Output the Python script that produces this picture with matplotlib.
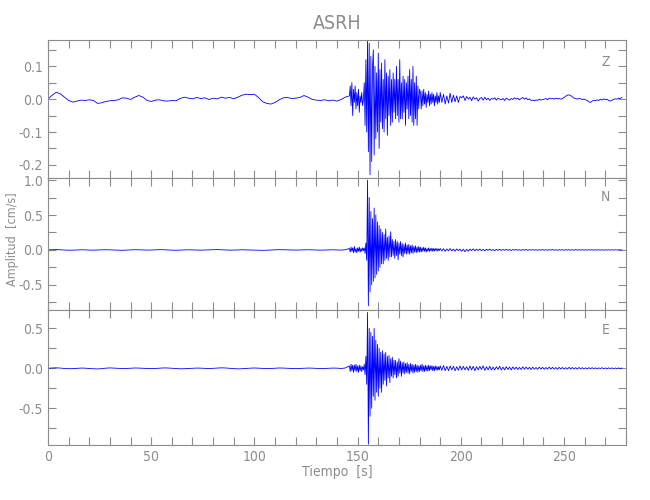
import numpy as np
import matplotlib
matplotlib.use("Agg")
import matplotlib.pyplot as plt
from matplotlib.ticker import MultipleLocator, FormatStrFormatter

plt.rcParams['font.family'] = ['DejaVu Sans']
plt.rcParams['font.stretch'] = 'condensed'
plt.rcParams['axes.unicode_minus'] = True

# 0. 数据
station = "ASRH"
components = ["Z", "N", "E"]

# 事件前 (0-144 s, 每 2 s 一个值)
pre_start, pre_step = 0.0, 2.0
z_pre = [0.0, 0.012, 0.021, 0.016, 0.006, -0.004, -0.009, -0.006, -0.003, -0.004,
         -0.002, -0.004, -0.013, -0.011, -0.007, -0.005, -0.004, -0.002, 0.004, 0.003,
         -0.001, 0.006, 0.011, 0.006, -0.004, -0.007, -0.003, -0.002, -0.005, -0.006,
         -0.004, -0.005, 0.002, 0.006, 0.003, 0.001, 0.005, 0.002, 0.004, -0.001,
         0.003, 0.001, 0.006, 0.003, 0.005, 0.001, 0.006, 0.012, 0.015, 0.014,
         0.015, 0.005, -0.008, -0.013, -0.015, -0.010, -0.002, 0.004, 0.005, 0.002,
         0.003, 0.005, 0.011, 0.006, -0.001, -0.003, -0.004, -0.002, -0.005, -0.003,
         -0.006, -0.001, 0.006]
n_pre = [0.0, 0.003, 0.005, 0.002, -0.002, -0.004, -0.003, 0.0, 0.002, 0.001,
         -0.002, -0.003, -0.001, 0.002, 0.003, 0.001, -0.001, -0.004, -0.005, -0.002,
         0.001, 0.003, 0.002, 0.0, -0.002, -0.001, 0.002, 0.004, 0.003, 0.0,
         -0.003, -0.004, -0.002, 0.001, 0.002, 0.0, -0.002, -0.003, -0.001, 0.002,
         0.004, 0.005, 0.002, -0.001, -0.003, -0.002, 0.0, 0.002, 0.001, -0.001,
         -0.003, -0.004, -0.006, -0.004, -0.001, 0.002, 0.004, 0.003, 0.001, -0.001,
         -0.002, 0.0, 0.002, 0.003, 0.001, -0.002, -0.003, -0.001, 0.001, 0.002,
         0.0, -0.002, 0.003]
e_pre = [0.0, 0.004, 0.006, 0.003, -0.002, -0.005, -0.004, 0.0, 0.003, 0.002,
         -0.003, -0.006, -0.008, -0.004, 0.002, 0.005, 0.003, 0.0, -0.003, -0.002,
         0.001, 0.004, 0.003, 0.0, -0.002, -0.004, -0.002, 0.002, 0.005, 0.004,
         0.001, -0.003, -0.006, -0.005, -0.002, 0.001, 0.003, 0.002, -0.001, -0.003,
         0.0, 0.003, 0.006, 0.004, 0.0, -0.004, -0.007, -0.005, -0.001, 0.002,
         0.004, 0.002, -0.001, -0.003, -0.002, 0.001, 0.004, 0.003, 0.0, -0.002,
         -0.004, -0.002, 0.001, 0.003, 0.002, -0.001, -0.003, -0.002, 0.001, 0.003,
         0.002, -0.002, 0.004]

# 事件 (146-189.6 s, 每 0.4 s 一个值)
ev_start, ev_step = 146.0, 0.4
z_ev = [0.01, 0.04, -0.02, 0.05, -0.05, 0.03, -0.01, 0.04, -0.03, 0.02,
        -0.02, 0.03, -0.04, 0.01, -0.01, 0.02, -0.02, 0.0,
        0.05, -0.08, 0.12, -0.10, 0.18, -0.16, 0.17, -0.23, 0.13, -0.19, 0.10,
        0.15, -0.17, 0.10, -0.12, 0.08, -0.10, 0.14, -0.15, 0.09, -0.07, 0.11, -0.09,
        0.06, -0.10, 0.12, -0.06, 0.08, -0.11, 0.07, -0.05, 0.09, -0.08, 0.06, -0.07,
        0.08, -0.04, 0.06,
        -0.06, 0.10, -0.05, 0.06, -0.07, 0.12, -0.06, 0.05, -0.06, 0.07, -0.04, 0.06,
        -0.08, 0.05, -0.03,
        0.07, -0.06, 0.09, -0.05, 0.06, -0.07, 0.10, -0.08, 0.05, -0.06, 0.07, -0.08,
        0.04, -0.03, 0.03,
        0.02, -0.03, 0.025, -0.02, 0.03, -0.015, 0.02, -0.025, 0.015, -0.01, 0.025,
        -0.02, 0.015, -0.015, 0.02, -0.01, 0.015, -0.02, 0.01, -0.01, 0.02, -0.015,
        0.01, -0.01]
n_ev = [0.02, -0.03, 0.04, -0.02, 0.03, -0.04, 0.05, -0.03, 0.02, -0.04,
        0.03, -0.02, 0.04, -0.03, 0.02, -0.02, 0.03, -0.01,
        0.03, -0.05, 0.10, -0.15, 1.0, -0.80, 0.75, -0.60, 0.55, -0.50, 0.45,
        -0.45, 0.60, -0.40, 0.50, -0.35, 0.40, -0.30, 0.35, -0.25, 0.30, -0.20, 0.25,
        -0.20, 0.22, -0.15, 0.30, -0.12, 0.18, -0.15, 0.20, -0.10, 0.26, -0.10, 0.15,
        -0.08, 0.12, -0.12,
        0.15, -0.08, 0.12, -0.14, 0.10, -0.06, 0.12, -0.08, 0.09, -0.10, 0.08, -0.05,
        0.10, -0.06, 0.07,
        -0.05, 0.08, -0.06, 0.06, -0.04, 0.07, -0.05, 0.05, -0.03, 0.06, -0.04, 0.04,
        -0.03, 0.05, -0.03,
        0.04, -0.03, 0.03, -0.02, 0.04, -0.02, 0.03, -0.03, 0.02, -0.02, 0.03, -0.02,
        0.02, -0.015, 0.025, -0.02, 0.02, -0.015, 0.02, -0.01, 0.02, -0.015, 0.015, -0.01]
e_ev = [0.03, -0.04, 0.05, -0.03, 0.04, -0.05, 0.04, -0.03, 0.05, -0.04,
        0.03, -0.05, 0.04, -0.03, 0.03, -0.04, 0.02, -0.02,
        0.05, -0.08, 0.15, -0.20, 0.70, -0.95, 0.50, -0.60, 0.45, -0.50, 0.40,
        -0.35, 0.50, -0.40, 0.35, -0.30, 0.30, -0.35, 0.25, -0.25, 0.20, -0.30, 0.22,
        -0.20, 0.18, -0.15, 0.20, -0.22, 0.15, -0.12, 0.16, -0.18, 0.12, -0.10, 0.14,
        -0.12, 0.10, -0.08,
        0.10, -0.12, 0.08, -0.10, 0.12, -0.06, 0.09, -0.10, 0.07, -0.06, 0.08, -0.07,
        0.06, -0.05, 0.07,
        -0.06, 0.05, -0.07, 0.06, -0.04, 0.05, -0.06, 0.04, -0.05, 0.05, -0.04, 0.04,
        -0.05, 0.03, -0.04,
        0.04, -0.03, 0.05, -0.04, 0.03, -0.04, 0.04, -0.03, 0.03, -0.035, 0.04, -0.03,
        0.03, -0.02, 0.035, -0.03, 0.025, -0.03, 0.03, -0.02, 0.025, -0.025, 0.02, -0.02]

# 尾波 (190-278 s, 每 0.8 s 一个值)
coda_start, coda_step = 190.0, 0.8
z_coda = [0.02, -0.01, 0.015, -0.015, 0.01, -0.012, 0.018, -0.01, 0.012, -0.008,
          0.01, -0.01, 0.008,
          0.004, 0.01, -0.004, 0.008, 0.0, 0.006, -0.005, 0.007, 0.0, 0.004,
          -0.006, 0.002, 0.005, -0.003, 0.006, -0.002, 0.003, -0.004, 0.002, 0.0,
          0.004, -0.003, 0.003, 0.0, -0.002,
          0.002, -0.004, 0.003, 0.0, -0.003, 0.002, -0.001, 0.004, 0.0, 0.003,
          -0.002, 0.002, 0.005, 0.0, 0.004, -0.002, 0.001, -0.004, -0.003, -0.005,
          -0.002, -0.004, 0.0, -0.003, -0.001,
          0.0, 0.002, -0.002, 0.003, 0.001, 0.002, 0.0, 0.003, 0.001, 0.002,
          0.0, 0.002, 0.005, 0.009, 0.012, 0.013, 0.011, 0.007, 0.003, 0.002,
          0.0, 0.002, 0.001, -0.001, 0.0,
          -0.002, -0.004, -0.008, -0.010, -0.006, -0.003, -0.005, -0.002, -0.004, 0.0,
          -0.003, 0.001, -0.002, 0.0, -0.004, -0.006, -0.003, -0.001, 0.001, 0.0,
          0.003, 0.002, 0.005]
n_coda = [0.02, -0.015, 0.018, -0.02, 0.015, -0.012, 0.02, -0.015, 0.012, -0.018,
          0.015, -0.01, 0.012, -0.02, 0.01, -0.025, 0.008, -0.018, 0.012, -0.01,
          0.015, -0.012, 0.01, -0.008, 0.014, -0.01, 0.008, -0.012, 0.01, -0.006,
          0.012, -0.008, 0.006, -0.01, 0.008, -0.006, 0.01, -0.008, 0.006, -0.005,
          0.008, -0.006, 0.005, -0.007, 0.006, -0.004, 0.007, -0.005, 0.004, -0.006,
          0.005, -0.004, 0.006, -0.005, 0.004, -0.003, 0.005, -0.004, 0.003, -0.005,
          0.004, -0.003, 0.005, -0.004, 0.003, -0.004, 0.004, -0.003, 0.006, -0.004,
          0.003, -0.005, 0.004, -0.003, 0.003, -0.004, 0.005, -0.003, 0.004, -0.003,
          0.003, -0.004, 0.004, -0.002, 0.003, -0.003, 0.004, -0.003, 0.002, -0.003,
          0.004, -0.002, 0.003, -0.003, 0.002, -0.002, 0.003, -0.002, 0.002, -0.003,
          0.002, -0.002, 0.003, -0.002, 0.002, -0.002, 0.002, -0.001, 0.002, -0.002, 0.001]
e_coda = [0.03, -0.025, 0.035, -0.03, 0.025, -0.03, 0.03, -0.02, 0.025, -0.03,
          0.02, -0.025, 0.03, -0.02, 0.025, -0.02, 0.02, -0.025, 0.03, -0.02,
          0.025, -0.03, 0.02, -0.02, 0.025, -0.015, 0.03, -0.025, 0.02, -0.02,
          0.025, -0.02, 0.015, -0.02, 0.02, -0.015, 0.025, -0.02, 0.015, -0.02,
          0.02, -0.015, 0.015, -0.02, 0.018, -0.012, 0.015, -0.015, 0.012, -0.015,
          0.018, -0.012, 0.015, -0.01, 0.012, -0.015, 0.015, -0.012, 0.01, -0.012,
          0.015, -0.01, 0.012, -0.012, 0.01, -0.01, 0.015, -0.01, 0.012, -0.01,
          0.01, -0.012, 0.012, -0.008, 0.01, -0.01, 0.008, -0.01, 0.012, -0.008,
          0.01, -0.008, 0.008, -0.01, 0.01, -0.006, 0.008, -0.008, 0.006, -0.008,
          0.008, -0.006, 0.008, -0.006, 0.006, -0.008, 0.006, -0.005, 0.008, -0.006,
          0.005, -0.006, 0.006, -0.004, 0.005, -0.005, 0.004, -0.005, 0.005, -0.004, 0.003]

y_limits = [(-0.24, 0.18), (-0.86, 1.03), (-0.96, 0.73)]
y_major = [0.1, 0.5, 0.5]
y_minor = [0.05, 0.25, 0.25]
comp_label_y = [0.84, 0.856, 0.85]


# 1. 拼接时间轴与振幅
def build_trace(pre, ev, coda):
    t = np.concatenate([
        pre_start + pre_step * np.arange(len(pre)),
        ev_start + ev_step * np.arange(len(ev)),
        coda_start + coda_step * np.arange(len(coda)),
    ])
    return t, np.array(pre + ev + coda)


traces = [build_trace(z_pre, z_ev, z_coda),
          build_trace(n_pre, n_ev, n_coda),
          build_trace(e_pre, e_ev, e_coda)]

# 2. 画图
GRAY = "#8c8c8c"
fig = plt.figure(figsize=(6.5, 5), dpi=100)
left, width = 48 / 650, (626 - 48) / 650
panel_px = [(40, 178), (178, 310), (310, 445)]
axes = []
for i, (top, bot) in enumerate(panel_px):
    ax = fig.add_axes([left, 1 - bot / 500, width, (bot - top) / 500])
    t, amp = traces[i]
    ax.plot(t, amp, color="#0000ff", lw=0.6)
    ax.set_xlim(0, 280)
    ax.set_ylim(*y_limits[i])
    ax.xaxis.set_major_locator(MultipleLocator(50))
    ax.xaxis.set_minor_locator(MultipleLocator(10))
    ax.yaxis.set_major_locator(MultipleLocator(y_major[i]))
    ax.yaxis.set_minor_locator(MultipleLocator(y_minor[i]))
    ax.yaxis.set_major_formatter(FormatStrFormatter("%.1f"))
    ax.tick_params(which="both", direction="in", top=True, right=True,
                   colors=GRAY, labelcolor=GRAY, labelsize=10, width=0.8)
    ax.tick_params(which="major", length=6)
    ax.tick_params(which="minor", length=6)
    for s in ax.spines.values():
        s.set_color(GRAY)
        s.set_linewidth(0.8)
    if i < 2:
        ax.tick_params(labelbottom=False)
    ax.text(0.964, comp_label_y[i], components[i], transform=ax.transAxes,
            ha="center", va="center", color=GRAY, fontsize=10)
    axes.append(ax)

axes[0].set_title(station, color=GRAY, fontsize=14, pad=8)
axes[1].set_ylabel("Amplitud  [cm/s]", color=GRAY, fontsize=9)
axes[1].yaxis.set_label_coords(-0.05, 0.54)
axes[2].set_xlabel("Tiempo  [s]", color=GRAY, fontsize=10, labelpad=1)

fig.savefig("out.png", dpi=100)
